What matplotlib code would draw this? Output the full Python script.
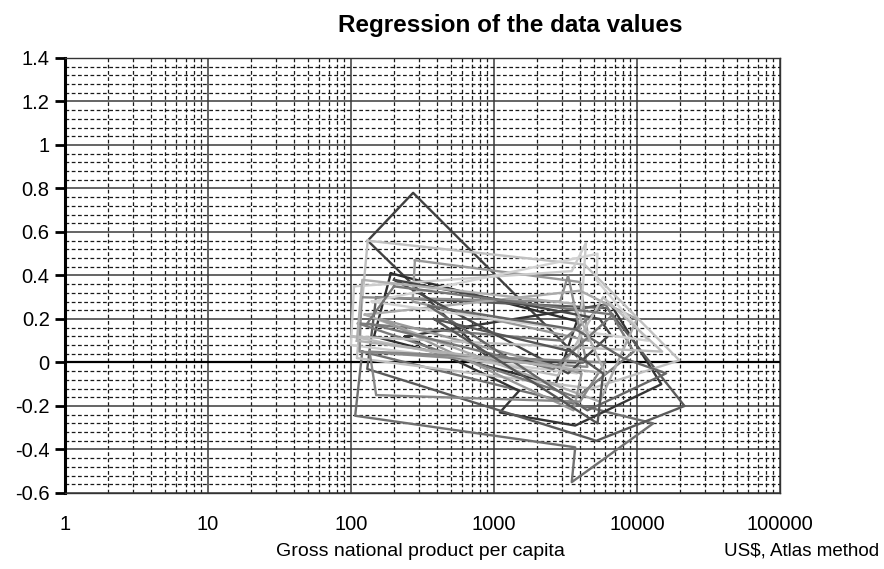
import numpy as np
import matplotlib
matplotlib.use("Agg")
import matplotlib.pyplot as plt
from matplotlib.ticker import FixedLocator, LogLocator, NullFormatter

plt.rcParams['font.family'] = ['Liberation Sans', 'DejaVu Sans']

# each series: GNP per capita (US$) and regression value, drawn as closed paths
gnp = [
    [131, 272, 4200, 950, 131],
    [190, 145, 2700, 3800, 190],
    [120, 107, 3700, 3500, 13000, 120],
    [240, 1500, 1100, 3700, 14800, 6500, 240],
    [150, 6200, 21500, 5200, 130, 150],
    [131, 4300, 19800, 4800, 110, 131],
    [280, 4000, 4600, 270, 280],
    [105, 3500, 4400, 3800, 100, 105],
    [118, 2900, 3300, 4500, 115, 118],
    [112, 3000, 6000, 9500, 3800, 112],
    [125, 4000, 10000, 5500, 125],
    [200, 5500, 6500, 3300, 200],
    [140, 5300, 5200, 12000, 140],
    [160, 3600, 4100, 160],
    [100, 2800, 5800, 15000, 100],
    [350, 3800, 8000, 16000, 4500, 350],
    [135, 150, 4000, 6000, 135],
    [200, 130, 2600, 6800, 200],
    [110, 120, 3600, 6000, 110],
    [380, 3500, 5800, 5300, 380],
]
coef = [
    [0.56, 0.78, 0.00, 0.01, 0.56],
    [0.41, 0.12, -0.10, 0.19, 0.41],
    [0.05, -0.245, -0.39, -0.55, -0.28, 0.05],
    [0.12, -0.13, -0.23, -0.29, -0.10, 0.27, 0.12],
    [0.30, 0.25, -0.20, -0.36, -0.03, 0.30],
    [0.56, 0.45, 0.01, -0.12, 0.02, 0.56],
    [0.47, 0.37, 0.10, 0.28, 0.47],
    [0.35, 0.42, 0.55, -0.05, 0.08, 0.35],
    [0.30, 0.28, 0.40, -0.02, 0.05, 0.30],
    [0.18, 0.10, 0.27, 0.05, -0.16, 0.18],
    [0.22, 0.33, 0.20, -0.18, 0.22],
    [0.38, 0.20, 0.13, -0.05, 0.38],
    [0.28, 0.50, 0.38, 0.10, 0.28],
    [0.20, -0.22, -0.05, 0.20],
    [0.12, -0.06, 0.30, 0.05, 0.12],
    [0.26, 0.15, 0.02, -0.05, -0.22, 0.26],
    [0.05, -0.15, -0.18, 0.00, 0.05],
    [0.35, 0.18, -0.03, 0.22, 0.35],
    [0.10, 0.38, 0.27, -0.05, 0.10],
    [0.20, 0.05, -0.05, -0.28, 0.20],
]
shades = ['#404040', '#2e2e2e', '#707070', '#353535', '#5a5a5a',
          '#c0c0c0', '#999999', '#cccccc', '#8c8c8c', '#7a7a7a',
          '#aaaaaa', '#474747', '#d2d2d2', '#9a9a9a', '#bcbcbc',
          '#666666', '#888888', '#777777', '#b0b0b0', '#555555']

fig = plt.figure(figsize=(8.84, 5.69), dpi=100)
ax = fig.add_axes([0.0735, 0.1336, 0.8088, 0.7645])

ax.set_xscale('log')
ax.set_xlim(1, 100000)
ax.set_ylim(-0.6, 1.4)

ax.yaxis.set_major_locator(FixedLocator(np.arange(-0.6, 1.41, 0.2)))
ax.yaxis.set_minor_locator(FixedLocator(np.arange(-0.6, 1.41, 0.04)))
ax.set_yticklabels(['%g' % round(v, 1) for v in np.arange(-0.6, 1.41, 0.2)])
ax.xaxis.set_major_locator(FixedLocator([1, 10, 100, 1000, 10000, 100000]))
ax.set_xticklabels(['1', '10', '100', '1000', '10000', '100000'])
ax.xaxis.set_minor_locator(LogLocator(base=10, subs=np.arange(2, 10)))
ax.xaxis.set_minor_formatter(NullFormatter())

ax.grid(which='major', color='#3a3a3a', lw=1.1, ls='-')
ax.grid(which='minor', color='#1a1a1a', lw=0.9, ls=(0, (3, 2)))
ax.set_axisbelow(True)
ax.axhline(0, color='black', lw=1.6, zorder=1.5)

for xs, ys, c in zip(gnp, coef, shades):
    ax.plot(xs, ys, color=c, lw=1.7, zorder=3)

ax.tick_params(axis='y', which='major', length=7, width=2, labelsize=14.5, pad=4)
ax.tick_params(axis='y', which='minor', length=0)
ax.tick_params(axis='x', which='major', length=0, labelsize=14.5, pad=16)
ax.tick_params(axis='x', which='minor', length=0)
ax.spines['left'].set_linewidth(2.2)
for s in ['top', 'right', 'bottom']:
    ax.spines[s].set_linewidth(1.0)
    ax.spines[s].set_color('#333333')

fig.text(0.577, 0.955, 'Regression of the data values', fontsize=17.5,
         fontweight='bold', ha='center', va='center')
fig.text(0.476, 0.031, 'Gross national product per capita', fontsize=14,
         ha='center', va='center')
fig.text(0.995, 0.031, 'US$, Atlas method', fontsize=13.5, ha='right', va='center')

fig.savefig('out.png', dpi=100, facecolor='white')
